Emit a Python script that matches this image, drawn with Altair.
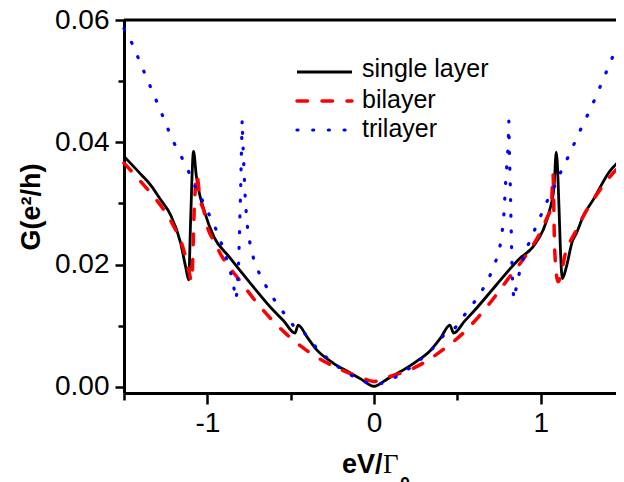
import altair as alt
import pandas as pd

series_names = ["single layer", "bilayer", "trilayer"]
series_colors = ["#000000", "#ff0000", "#0000ff"]

single_x = [-1.5, -1.4, -1.34, -1.28, -1.22, -1.16, -1.13, -1.112, -1.10, -1.083, -1.066, -1.052, -1.02,
            -0.96, -0.87, -0.74, -0.6, -0.545, -0.474, -0.455, -0.40, -0.345, -0.245, -0.144, -0.08, -0.03,
            0.0, 0.03, 0.08, 0.146, 0.24, 0.34, 0.40, 0.455, 0.478, 0.545, 0.6, 0.735, 0.874, 0.954, 1.014,
            1.054, 1.08, 1.094, 1.11, 1.118, 1.13, 1.154, 1.19, 1.214, 1.26, 1.313, 1.413, 1.5]
single_y = [0.0377, 0.0348, 0.0330, 0.0306, 0.0281, 0.0235, 0.0196, 0.0175, 0.0275, 0.0385, 0.0345, 0.0322,
            0.0289, 0.0245, 0.0213, 0.0169, 0.0124, 0.0109, 0.0088, 0.0101, 0.0081, 0.0061, 0.0039, 0.0023,
            0.0013, 0.0004, 0.0001, 0.0004, 0.0013, 0.0023, 0.0039, 0.0060, 0.0080, 0.0101, 0.0088, 0.0108,
            0.0124, 0.0167, 0.0210, 0.0229, 0.0256, 0.0289, 0.0327, 0.0384, 0.0294, 0.0229, 0.0177, 0.0196,
            0.0238, 0.0251, 0.0282, 0.0305, 0.0352, 0.0376]

bi_x = [-1.5, -1.42, -1.34, -1.27, -1.21, -1.142, -1.112, -1.094, -1.078, -1.064, -1.042, -1.022, -1.002,
        -0.96, -0.922, -0.80, -0.683, -0.54, -0.38, -0.22, -0.084, 0.0, 0.084, 0.24, 0.40, 0.55, 0.695, 0.80,
        0.914, 1.004, 1.04, 1.064, 1.074, 1.084, 1.104, 1.154, 1.204, 1.244, 1.35, 1.473, 1.5]
bi_y = [0.0366, 0.0342, 0.0317, 0.0293, 0.0267, 0.0224, 0.0191, 0.0173, 0.0294, 0.0347, 0.0305, 0.0289,
        0.0264, 0.0238, 0.0218, 0.0172, 0.0131, 0.0090, 0.0055, 0.0031, 0.0016, 0.0009, 0.0016, 0.0031,
        0.0058, 0.0092, 0.0137, 0.0175, 0.0216, 0.0256, 0.0278, 0.0294, 0.0348, 0.0224, 0.0172, 0.0224,
        0.0251, 0.0273, 0.0320, 0.0360, 0.0366]

tri_x = [-1.5, -1.45, -1.37, -1.29, -1.21, -1.16, -1.114, -1.07, -1.02, -0.976, -0.932, -0.90, -0.868,
         -0.846, -0.828, -0.822, -0.816, -0.812, -0.809, -0.806, -0.804, -0.801, -0.799, -0.797, -0.795,
         -0.793, -0.791, -0.788, -0.784, -0.780, -0.776, -0.772, -0.765, -0.756, -0.738, -0.713, -0.669,
         -0.615, -0.547, -0.475, -0.415, -0.33, -0.238, -0.144, -0.044, 0.0, 0.05, 0.146, 0.241, 0.34, 0.42,
         0.485, 0.555, 0.625, 0.681, 0.723, 0.753, 0.768, 0.778, 0.784, 0.789, 0.795, 0.802, 0.806, 0.809,
         0.810, 0.812, 0.814, 0.817, 0.819, 0.821, 0.823, 0.825, 0.827, 0.830, 0.834, 0.840, 0.858, 0.88,
         0.908, 0.946, 0.99, 1.03, 1.078, 1.12, 1.168, 1.21, 1.253, 1.30, 1.343, 1.383, 1.423, 1.463, 1.5]
tri_y = [0.0586, 0.0561, 0.0509, 0.0458, 0.0404, 0.0379, 0.0353, 0.0326, 0.0300, 0.0274, 0.0248, 0.0222,
         0.0196, 0.0170, 0.0143, 0.0156, 0.0181, 0.0207, 0.0233, 0.0260, 0.0286, 0.0312, 0.0338, 0.0364,
         0.0390, 0.0412, 0.0437, 0.0409, 0.0382, 0.0356, 0.0330, 0.0305, 0.0278, 0.0252, 0.0226, 0.0200,
         0.0175, 0.0149, 0.0123, 0.0097, 0.0087, 0.0059, 0.0037, 0.0020, 0.0007, 0.0004, 0.0006, 0.0018,
         0.0036, 0.0059, 0.0085, 0.0096, 0.0122, 0.0147, 0.0173, 0.0199, 0.0225, 0.0251, 0.0277, 0.0304,
         0.0330, 0.0355, 0.0381, 0.0407, 0.0435, 0.0417, 0.0391, 0.0365, 0.0339, 0.0312, 0.0286, 0.0261,
         0.0234, 0.0208, 0.0183, 0.0157, 0.0143, 0.0169, 0.0196, 0.0221, 0.0246, 0.0273, 0.0299, 0.0325,
         0.0351, 0.0378, 0.0403, 0.0429, 0.0455, 0.0482, 0.0508, 0.0534, 0.0560, 0.0588]

x_tick_values = [-1.5, -1.0, -0.5, 0.0, 0.5, 1.0, 1.5]
y_tick_values = [0.0, 0.01, 0.02, 0.03, 0.04, 0.05, 0.06]
y_title = "G(e²/h)"
x_title_parts = ["eV/", "Γ", "0"]

rows = []
for name, xs, ys in zip(series_names, [single_x, bi_x, tri_x], [single_y, bi_y, tri_y]):
    for i, (a, b) in enumerate(zip(xs, ys)):
        rows.append({"series": name, "i": i, "x": a, "y": b})
df = pd.DataFrame(rows)

W, H = 500, 373
FONT = "Liberation Sans"

xscale = alt.Scale(domain=[-1.5, 1.5], nice=False, zero=False)
yscale = alt.Scale(domain=[-0.001, 0.06], nice=False, zero=False)

x_major = "round(datum.value*2) % 2 == 0"
y_major = "round(datum.value*100) % 2 == 0"

x_axis = alt.Axis(
    values=x_tick_values, title=None, grid=False,
    domainColor="black", domainWidth=3,
    tickColor="black", tickWidth=2.5,
    tickSize={"condition": {"test": x_major, "value": 11}, "value": 7},
    labelExpr=f"{x_major} ? replace(format(datum.value, 'd'), '\u2212', '-') : ''",
    labelFont=FONT, labelFontSize=28, labelColor="black", labelPadding=5,
    labelFlush=False, labelOverlap=False,
)
y_axis = alt.Axis(
    values=y_tick_values, title=y_title, grid=False,
    domainColor="black", domainWidth=3,
    tickColor="black", tickWidth=2.5,
    tickSize={"condition": {"test": y_major, "value": 9}, "value": 6},
    labelExpr=f"{y_major} ? format(datum.value, '.2f') : ''",
    labelFont=FONT, labelFontSize=28, labelColor="black", labelPadding=6,
    labelFlush=False, labelOverlap=False,
    titleFont=FONT, titleFontSize=27, titleFontWeight="bold", titleColor="black",
    titleAngle=-90, titleX=-93, titleY=H / 2, titleAlign="center", titleBaseline="middle",
)

base = alt.Chart(df).encode(
    x=alt.X("x:Q", scale=xscale, axis=x_axis),
    y=alt.Y("y:Q", scale=yscale, axis=y_axis),
    order=alt.Order("i:Q"),
)

styles = {
    "single layer": dict(strokeWidth=2.8, interpolate="monotone"),
    "bilayer": dict(strokeWidth=3.5, strokeDash=[10.5, 14.5], strokeCap="round", interpolate="monotone"),
    "trilayer": dict(strokeWidth=3.2, strokeDash=[1, 14.7], strokeCap="round"),
}

layers = []
for name, color in zip(series_names, series_colors):
    layers.append(
        base.transform_filter(alt.datum.series == name).mark_line(color=color, **styles[name])
    )

# top frame line
frame_top = alt.Chart(pd.DataFrame({"a": [0]})).mark_rule(color="black", strokeWidth=3).encode(
    x=alt.value(0), x2=alt.value(W), y=alt.value(0)
)
layers.append(frame_top)

# legend
leg_line_y = [52, 81, 110]
leg_text_y = [57, 88, 117]
for name, color, ly, ty in zip(series_names, series_colors, leg_line_y, leg_text_y):
    st = styles[name]
    rule_kwargs = dict(color=color, strokeWidth=st["strokeWidth"])
    if "strokeDash" in st:
        rule_kwargs["strokeDash"] = st["strokeDash"]
        rule_kwargs["strokeCap"] = "round"
    layers.append(
        alt.Chart(pd.DataFrame({"a": [0]})).mark_rule(**rule_kwargs).encode(
            x=alt.value(173), x2=alt.value(228), y=alt.value(ly)
        )
    )
    layers.append(
        alt.Chart(pd.DataFrame({"t": [name]})).mark_text(
            font=FONT, fontSize=25, align="left", baseline="alphabetic", color="black"
        ).encode(text="t:N", x=alt.value(238), y=alt.value(ty))
    )

# x-axis title: eV/Γ0
layers.append(
    alt.Chart(pd.DataFrame({"t": [x_title_parts[0]]})).mark_text(
        font=FONT, fontSize=27, fontWeight="bold", align="left", baseline="alphabetic", color="black"
    ).encode(text="t:N", x=alt.value(218), y=alt.value(453))
)
layers.append(
    alt.Chart(pd.DataFrame({"t": [x_title_parts[1]]})).mark_text(
        font="Liberation Serif", fontSize=27, align="left", baseline="alphabetic", color="black"
    ).encode(text="t:N", x=alt.value(259), y=alt.value(453))
)
layers.append(
    alt.Chart(pd.DataFrame({"t": [x_title_parts[2]]})).mark_text(
        font=FONT, fontSize=18, fontWeight="bold", align="left", baseline="alphabetic", color="black"
    ).encode(text="t:N", x=alt.value(276), y=alt.value(470))
)

chart = alt.layer(*layers).properties(
    width=W, height=H,
    autosize=alt.AutoSizeParams(type="none"),
    padding={"left": 116, "top": 12, "right": -8, "bottom": 89},
    background="white",
).configure_view(stroke=None)

chart.save("out.html", embed_options={"renderer": "svg", "actions": False})
